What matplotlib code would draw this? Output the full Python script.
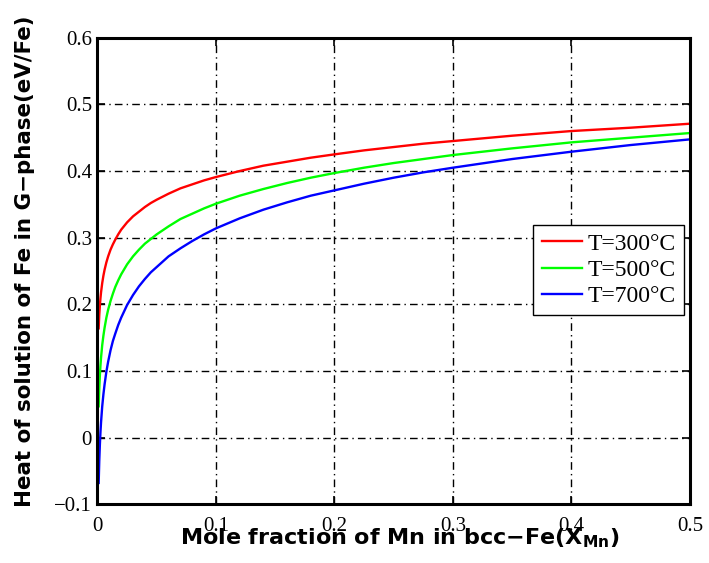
import numpy as np
import matplotlib
matplotlib.use('Agg')
import matplotlib.pyplot as plt

# mole fraction of Mn and heat of solution (eV/Fe) for each temperature
x_mn = [0.001, 0.0015, 0.002, 0.0025, 0.003, 0.004, 0.005, 0.006, 0.0075, 0.009,
        0.011, 0.013, 0.015, 0.0175, 0.02, 0.025, 0.03, 0.035, 0.04, 0.045,
        0.05, 0.06, 0.07, 0.08, 0.09, 0.1, 0.12, 0.14, 0.16, 0.18,
        0.2, 0.225, 0.25, 0.275, 0.3, 0.35, 0.4, 0.45, 0.5]
h_300 = [0.164, 0.184, 0.198, 0.209, 0.218, 0.232, 0.243, 0.252, 0.263, 0.272,
         0.282, 0.290, 0.297, 0.305, 0.312, 0.323, 0.332, 0.339, 0.346, 0.352,
         0.357, 0.366, 0.374, 0.380, 0.386, 0.391, 0.400, 0.408, 0.414, 0.420,
         0.425, 0.431, 0.436, 0.441, 0.445, 0.453, 0.460, 0.465, 0.471]
h_500 = [0.047, 0.074, 0.093, 0.108, 0.120, 0.139, 0.153, 0.165, 0.180, 0.192,
         0.205, 0.216, 0.226, 0.236, 0.245, 0.260, 0.272, 0.282, 0.291, 0.298,
         0.305, 0.317, 0.328, 0.336, 0.344, 0.351, 0.363, 0.373, 0.382, 0.390,
         0.397, 0.405, 0.412, 0.418, 0.424, 0.434, 0.443, 0.450, 0.457]
h_700 = [-0.068, -0.035, -0.011, 0.008, 0.023, 0.047, 0.065, 0.080, 0.099, 0.114,
         0.131, 0.145, 0.156, 0.169, 0.180, 0.199, 0.214, 0.227, 0.238, 0.248,
         0.256, 0.272, 0.284, 0.295, 0.305, 0.314, 0.329, 0.342, 0.353, 0.363,
         0.371, 0.381, 0.390, 0.398, 0.405, 0.418, 0.429, 0.439, 0.4475]
labels = ['T=300°C', 'T=500°C', 'T=700°C']
colors = ['#ff0000', '#00ff00', '#0000ff']

xticks = [0, 0.1, 0.2, 0.3, 0.4, 0.5]
xticklabels = ['0', '0.1', '0.2', '0.3', '0.4', '0.5']
yticks = [-0.1, 0, 0.1, 0.2, 0.3, 0.4, 0.5, 0.6]
yticklabels = ['\u22120.1', '0', '0.1', '0.2', '0.3', '0.4', '0.5', '0.6']

plt.rcParams['mathtext.fontset'] = 'custom'
plt.rcParams['mathtext.bf'] = 'DejaVu Sans:bold'
plt.rcParams['mathtext.rm'] = 'DejaVu Sans:bold'

fig = plt.figure(figsize=(7.09, 5.63), dpi=100)
ax = fig.add_axes([0.1375, 0.1043, 0.8357, 0.8287])

for h, lab, c in zip([h_300, h_500, h_700], labels, colors):
    ax.plot(x_mn, h, color=c, lw=1.7, label=lab)

ax.set_xlim(0, 0.5)
ax.set_ylim(-0.1, 0.6)
ax.set_xticks(xticks)
ax.set_xticklabels(xticklabels, fontfamily='Liberation Serif', fontsize=15)
ax.set_yticks(yticks)
ax.set_yticklabels(yticklabels, fontfamily='Liberation Serif', fontsize=15)
ax.tick_params(direction='in', length=6, width=1.2, top=True, right=True)
ax.tick_params(axis='x', pad=9)
ax.tick_params(axis='y', pad=4)

ax.grid(True, color='black', linestyle=(0, (5.5, 3, 1, 3)), linewidth=1.0)
for s in ax.spines.values():
    s.set_linewidth(2.2)

# axis titles placed by hand, tucked close to the tick labels
fig.text(400 / 709, 1 - 544 / 563, 'Mole fraction of Mn in bcc\u2212Fe(X$_{\\mathbf{Mn}}$)',
         fontfamily='DejaVu Sans', fontweight='bold', fontsize=16,
         ha='center', va='baseline')
fig.text(25 / 709, 1 - 261 / 563, 'Heat of solution of Fe in G\u2212phase(eV/Fe)',
         fontfamily='DejaVu Sans', fontweight='bold', fontsize=15.4,
         ha='center', va='center', rotation=90)

leg = ax.legend(loc='lower right', bbox_to_anchor=(0.99, 0.405),
                prop={'family': 'Liberation Serif', 'size': 17},
                fancybox=False, framealpha=1, edgecolor='black',
                handlelength=1.7, handletextpad=0.25, borderpad=0.35,
                labelspacing=0.2, borderaxespad=0)
leg.get_frame().set_linewidth(1.0)

fig.savefig('out.png', dpi=100)
